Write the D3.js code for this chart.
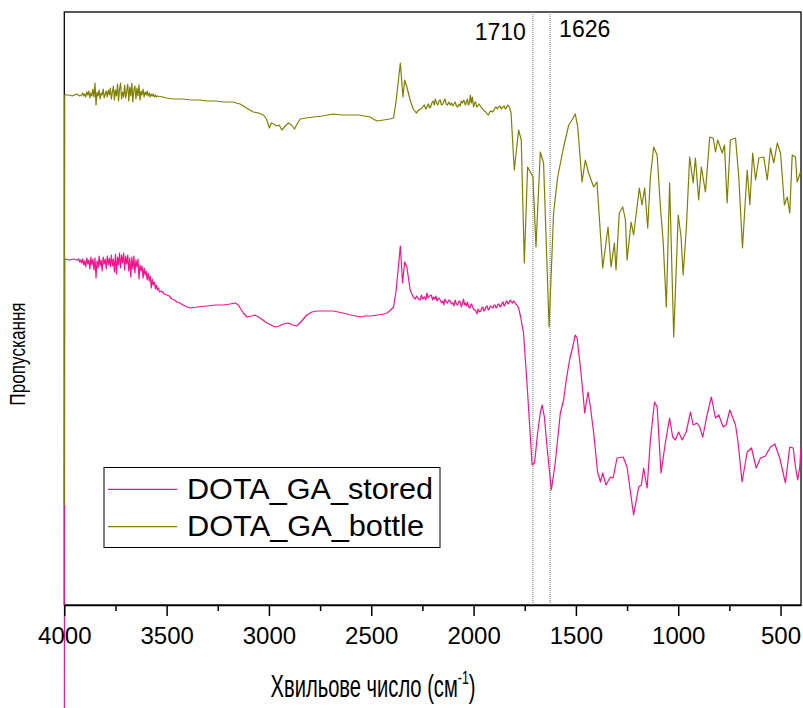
<!DOCTYPE html>
<html>
<head>
<meta charset="utf-8">
<script src="https://cdn.jsdelivr.net/npm/d3@7"></script>
<style>
  html, body { margin: 0; padding: 0; background: #fff; }
  svg { display: block; }
  text { font-family: "Liberation Sans", Arial, sans-serif; fill: #000; }
</style>
</head>
<body>
<svg id="chart" width="803" height="708"></svg>
<script>
// FTIR transmittance spectra, wavenumber (cm^-1) vs. transmittance (arbitrary units, offset)
const seriesNames = ["DOTA_GA_stored", "DOTA_GA_bottle"];
const seriesColors = ["#f5138c", "#808000"];

const stored = [
  [4000,-20],[3998,34.6],[3975,34.5],[3955,34.6],[3940,34.5],
  [3935,34.5],[3930,34.6],[3925,34.3],[3920,34.5],[3915,34.2],[3910,34.6],[3905,34.0],[3900,34.4],
  [3895,33.8],[3890,34.7],[3885,34.1],[3880,34.5],[3875,33.6],[3870,34.8],[3865,34.0],[3860,34.6],
  [3855,33.5],[3850,34.7],[3845,32.7],[3840,34.4],[3835,33.7],[3830,34.9],[3825,33.9],[3820,34.5],
  [3815,33.4],[3810,34.8],[3805,34.1],[3800,34.6],[3795,33.6],[3790,34.9],[3785,34.0],[3780,34.7],
  [3775,33.8],[3770,35.0],[3765,33.9],[3760,34.6],[3755,33.3],[3750,35.1],[3745,33.1],[3740,34.8],
  [3735,34.0],[3730,35.2],[3725,33.7],[3720,35.0],[3715,34.2],[3710,35.2],[3705,33.5],[3700,34.9],
  [3695,34.1],[3690,35.0],[3685,33.4],[3680,34.7],[3675,32.8],[3670,34.8],[3665,33.6],[3660,34.9],
  [3655,33.2],[3650,34.5],[3645,33.8],[3640,34.6],[3635,32.6],[3630,34.0],[3625,33.4],[3620,33.9],
  [3615,32.7],[3610,33.7],[3605,33.0],[3600,33.4],[3595,32.5],[3590,33.2],[3585,32.4],[3580,32.9],
  [3575,31.7],[3570,32.6],[3565,32.0],[3560,32.3],[3555,31.6],[3550,32.0],[3545,31.5],[3540,31.7],
  [3535,31.3],[3525,31.4],[3512,31.1],[3499,31.0],[3487,30.9],[3475,30.6],[3462,30.5],[3450,30.3],
  [3435,30.2],[3420,30.0],[3400,29.8],[3385,29.7],[3350,29.8],[3304,29.9],[3260,30.0],[3222,30.0],
  [3190,30.1],[3165,30.2],[3150,30.0],[3141,29.7],[3125,29.2],[3108,28.8],[3085,28.9],[3070,29.0],
  [3051,28.8],[3030,28.5],[3010,28.2],[2990,28.0],[2970,27.8],[2950,27.9],[2930,28.1],[2905,28.2],
  [2885,28.0],[2864,27.9],[2840,28.4],[2815,29.0],[2790,29.3],[2766,29.4],[2720,29.4],[2685,29.4],
  [2640,29.2],[2600,29.0],[2554,28.8],[2530,28.9],[2500,28.9],[2470,29.0],[2440,29.1],[2423,29.2],
  [2405,29.5],[2391,29.8],[2378,31.5],[2358,35.9],[2347,32.2],[2337,34.3],[2326,33.8],[2310,31.5],
  [2295,30.8],[2285,30.6],[2278,30.9],[2270,30.6],[2261,30.5],[2255,31.0],[2248,30.6],[2240,30.8],
  [2233,30.5],[2228,31.2],[2222,30.7],[2215,30.9],[2207,31.0],[2200,30.5],[2196,30.8],[2190,30.6],
  [2185,30.9],[2178,30.4],[2170,30.7],[2163,30.5],[2157,30.2],[2150,30.4],[2145,30.0],[2140,30.6],
  [2133,30.3],[2128,30.2],[2120,30.5],[2114,30.4],[2108,30.1],[2102,30.2],[2096,29.9],[2090,30.5],
  [2084,30.1],[2078,30.0],[2071,30.4],[2065,30.3],[2060,29.8],[2055,30.1],[2049,30.6],[2044,30.0],
  [2040,30.2],[2034,29.9],[2030,30.3],[2024,29.8],[2018,29.7],[2012,30.1],[2008,30.0],[2001,29.6],
  [1995,29.5],[1989,29.4],[1983,29.1],[1978,29.6],[1972,29.3],[1965,29.4],[1960,29.7],[1955,29.8],
  [1950,29.4],[1945,29.5],[1940,29.8],[1934,29.9],[1928,29.5],[1924,29.6],[1918,29.9],[1912,29.8],
  [1905,29.7],[1900,30.0],[1895,30.0],[1890,29.7],[1886,29.8],[1880,30.1],[1876,30.1],[1870,29.8],
  [1866,29.9],[1860,30.2],[1856,30.3],[1851,29.9],[1847,30.0],[1842,30.3],[1837,30.4],[1832,30.1],
  [1828,30.2],[1821,30.5],[1815,30.3],[1810,30.2],[1805,30.4],[1800,30.3],[1794,30.1],[1788,30.0],
  [1780,29.7],[1772,29.0],[1756,27.2],[1739,22.2],[1714,14.0],[1702,14.2],[1687,17.2],[1674,19.2],
  [1665,20.0],[1654,18.8],[1641,15.8],[1620,11.5],[1601,14.2],[1576,19.2],[1560,20.5],[1547,22.5],
  [1531,24.5],[1519,25.5],[1503,27.0],[1494,26.7],[1478,23.8],[1467,21.5],[1457,19.2],[1441,21.3],
  [1429,19.8],[1413,17.2],[1394,13.3],[1380,12.3],[1369,13.2],[1353,12.0],[1332,12.8],[1318,12.7],
  [1299,14.7],[1269,14.8],[1250,13.8],[1218,9.0],[1193,11.8],[1180,12.0],[1169,13.7],[1152,11.7],
  [1136,16.5],[1116,20.3],[1103,19.8],[1084,13.2],[1063,16.2],[1042,18.7],[1027,16.8],[1014,16.5],
  [998,17.3],[981,16.5],[961,17.3],[940,19.3],[927,18.0],[908,18.2],[895,17.8],[880,16.8],
  [859,19.0],[838,20.8],[818,18.7],[802,19.0],[780,17.8],[766,18.0],[748,19.5],[720,18.0],
  [707,16.2],[688,12.3],[663,15.3],[642,15.7],[619,13.7],[598,14.7],[574,14.9],[549,15.8],
  [528,16.1],[504,14.7],[476,12.2],[455,15.8],[438,15.7],[427,13.8],[416,12.5],[406,13.8],[400,15.8]
];

const bottle = [
  [4000,10.0],[3998,51.0],[3980,51.0],[3960,50.9],[3940,51.1],[3925,50.9],
  [3915,51.0],[3910,51.2],[3905,50.9],[3900,51.1],[3895,50.8],[3890,51.3],[3885,51.0],[3880,51.4],
  [3875,50.7],[3870,51.2],[3865,50.9],[3860,51.6],[3855,50.8],[3850,52.2],[3845,50.0],[3840,51.3],
  [3835,50.9],[3830,51.5],[3825,50.6],[3820,51.2],[3815,51.0],[3810,51.6],[3805,50.7],[3800,51.1],
  [3795,51.4],[3790,50.8],[3785,51.5],[3780,51.0],[3775,51.7],[3770,50.6],[3765,51.3],[3760,51.9],
  [3755,50.5],[3750,51.5],[3745,50.9],[3740,52.1],[3735,50.4],[3730,51.6],[3725,52.2],[3720,50.6],
  [3715,51.3],[3710,50.8],[3705,52.0],[3700,50.7],[3695,51.4],[3690,52.1],[3685,50.4],[3680,51.8],
  [3675,50.9],[3670,52.2],[3665,50.3],[3660,51.5],[3655,51.9],[3650,50.6],[3645,51.7],[3640,50.9],
  [3635,52.0],[3630,50.5],[3625,51.4],[3620,51.0],[3615,51.6],[3610,50.8],[3605,51.3],[3600,51.0],
  [3595,51.4],[3590,50.9],[3585,51.2],[3580,50.8],[3575,51.1],[3570,50.9],[3565,51.1],[3560,50.8],
  [3555,51.0],[3550,50.8],[3545,50.9],[3520,50.8],[3500,50.7],[3467,50.6],[3420,50.6],
  [3380,50.5],[3340,50.5],[3304,50.4],[3260,50.4],[3220,50.3],[3174,50.3],[3160,50.2],[3141,50.1],
  [3110,49.7],[3076,49.3],[3050,49.2],[3027,49.0],[3012,48.6],[2998,47.7],[2988,48.2],[2978,48.1],
  [2960,47.9],[2950,48.0],[2937,47.5],[2920,47.9],[2905,48.2],[2890,48.0],[2875,47.6],[2860,48.2],
  [2847,48.6],[2820,48.7],[2782,48.8],[2740,48.9],[2685,49.1],[2640,49.0],[2600,49.0],[2560,49.0],
  [2505,48.8],[2490,48.6],[2472,48.4],[2440,48.5],[2410,48.6],[2391,48.7],[2378,50.5],[2358,54.2],
  [2345,50.8],[2337,52.5],[2326,51.8],[2310,50.5],[2295,49.6],[2280,49.2],[2268,49.5],[2252,49.7],
  [2245,49.9],[2240,50.0],[2234,49.6],[2230,49.7],[2224,50.0],[2220,50.1],[2215,49.7],[2210,49.8],
  [2204,50.2],[2198,50.4],[2192,50.0],[2187,50.6],[2181,50.2],[2175,50.0],[2169,50.4],[2163,50.5],
  [2157,50.0],[2150,50.1],[2145,50.4],[2140,50.6],[2134,50.1],[2128,50.0],[2121,50.3],[2114,50.0],
  [2108,50.2],[2102,49.9],[2096,50.1],[2090,50.3],[2084,49.9],[2078,49.8],[2071,50.1],[2065,49.9],
  [2060,50.4],[2055,50.2],[2048,50.5],[2040,50.0],[2035,50.3],[2030,50.6],[2026,50.0],[2022,50.1],
  [2019,50.5],[2016,51.0],[2013,50.3],[2010,50.2],[2007,50.8],[2005,50.7],[2002,50.1],[2000,49.8],
  [1995,50.2],[1990,50.3],[1985,49.8],[1980,49.9],[1974,50.1],[1967,49.9],[1961,49.7],[1955,49.6],
  [1948,49.4],[1940,49.3],[1934,49.1],[1927,49.0],[1921,49.3],[1915,49.4],[1908,49.3],[1900,49.5],
  [1895,49.7],[1890,49.8],[1884,49.6],[1878,49.8],[1871,49.9],[1865,49.6],[1857,49.8],[1850,49.9],
  [1845,49.6],[1840,49.7],[1834,50.0],[1829,49.9],[1823,49.7],[1817,49.2],[1801,43.5],
  [1780,47.5],[1767,46.5],[1752,34.2],[1736,43.8],[1723,43.3],[1710,42.8],[1695,35.8],[1674,45.3],
  [1658,44.2],[1631,27.8],[1609,39.2],[1589,42.8],[1560,45.8],[1535,48.0],[1519,48.5],[1503,49.1],
  [1491,47.8],[1470,42.3],[1454,44.5],[1438,43.2],[1413,41.8],[1397,42.3],[1369,33.7],[1343,37.8],
  [1328,33.8],[1312,36.2],[1304,33.5],[1288,39.2],[1271,39.8],[1258,38.5],[1250,34.5],[1230,38.3],
  [1218,37.0],[1190,41.7],[1177,40.0],[1164,41.7],[1149,37.7],[1136,42.8],[1120,45.8],[1103,45.0],
  [1087,39.8],[1074,36.5],[1058,29.8],[1042,42.2],[1022,26.8],[1000,39.0],[986,36.8],[976,33.0],
  [960,37.8],[944,44.8],[927,42.2],[916,44.7],[900,40.5],[887,43.8],[867,41.3],[846,46.8],
  [829,46.7],[818,45.3],[807,46.5],[785,45.2],[774,46.0],[761,40.2],[745,46.5],[720,46.7],
  [704,42.8],[686,35.7],[663,43.5],[650,40.0],[636,45.2],[622,42.5],[606,44.7],[582,44.8],
  [565,42.5],[549,45.7],[533,44.2],[516,46.2],[500,45.2],[481,40.0],[467,40.8],[455,39.2],
  [443,45.0],[427,44.8],[419,42.3],[402,43.3]
];

const xMajorTicks = [4000, 3500, 3000, 2500, 2000, 1500, 1000, 500];
const xMinorTicks = [3750, 3250, 2750, 2250, 1750, 1250, 750];
const markerLines = [1710, 1626];

const svg = d3.select("#chart");
const frame = { left: 64.3, right: 801, top: 12, bottom: 605 };

const x = d3.scaleLinear().domain([4000, 400]).range([frame.left, frame.right]);
const y = d3.scaleLinear().domain([0, 59.3]).range([frame.bottom, frame.top]);

// plot frame
svg.append("rect")
  .attr("x", frame.left).attr("y", frame.top)
  .attr("width", frame.right - frame.left).attr("height", frame.bottom - frame.top)
  .attr("fill", "none").attr("stroke", "#000").attr("stroke-width", 1.3);

// band markers
svg.append("g").selectAll("line").data(markerLines).join("line")
  .attr("x1", d => x(d)).attr("x2", d => x(d))
  .attr("y1", frame.top).attr("y2", frame.bottom)
  .attr("stroke", "#777").attr("stroke-width", 1)
  .attr("stroke-dasharray", "1,1");

svg.append("text").attr("x", x(1710) - 7).attr("y", 40)
  .attr("text-anchor", "end").attr("font-size", 23).text(String(markerLines[0]));
svg.append("text").attr("x", x(1626) + 9).attr("y", 37)
  .attr("text-anchor", "start").attr("font-size", 23).text(String(markerLines[1]));

// spectra
const line = d3.line().x(d => x(d[0])).y(d => y(d[1]));
[stored, bottle].forEach((s, i) => {
  svg.append("path").datum(s)
    .attr("fill", "none")
    .attr("stroke", seriesColors[i])
    .attr("stroke-width", 1.2)
    .attr("stroke-linejoin", "round")
    .attr("d", line);
});

// bottom axis: major and minor ticks
const xAxis = d3.axisBottom(x).tickValues(xMajorTicks).tickFormat(d3.format("d"))
  .tickSize(11).tickSizeOuter(0).tickPadding(11);
const gx = svg.append("g").attr("transform", `translate(0,${frame.bottom})`).call(xAxis);
gx.select(".domain").attr("stroke", "#000").attr("stroke-width", 1.5);
gx.selectAll(".tick line").attr("stroke", "#000").attr("stroke-width", 1.5);
gx.selectAll(".tick text").attr("font-size", 24).attr("font-family", "Liberation Sans, Arial, sans-serif").attr("fill", "#000");

const xMinor = d3.axisBottom(x).tickValues(xMinorTicks).tickSize(6).tickFormat("");
const gm = svg.append("g").attr("transform", `translate(0,${frame.bottom})`).call(xMinor);
gm.select(".domain").remove();
gm.selectAll(".tick line").attr("stroke", "#000").attr("stroke-width", 1.5);

// axis titles (condensed lettering)
const xt = svg.append("g").attr("transform", "translate(373,697) scale(0.65,1)")
  .append("text").attr("text-anchor", "middle").attr("font-size", 31);
xt.append("tspan").text("Хвильове число (см");
xt.append("tspan").attr("font-size", 19).attr("dy", -13).text("-1");
xt.append("tspan").attr("dy", 13).text(")");

svg.append("g").attr("transform", "translate(25,354) rotate(-90) scale(0.78,1)")
  .append("text").attr("text-anchor", "middle").attr("font-size", 22).text("Пропускання");

// legend
const lg = svg.append("g");
lg.append("rect").attr("x", 104).attr("y", 467.5).attr("width", 336).attr("height", 80)
  .attr("fill", "#fff").attr("stroke", "#000").attr("stroke-width", 1);
const legendRows = [489.3, 526.7];
const legendWidths = [246, 237];
seriesNames.forEach((name, i) => {
  lg.append("line").attr("x1", 108).attr("x2", 177)
    .attr("y1", legendRows[i]).attr("y2", legendRows[i])
    .attr("stroke", seriesColors[i]).attr("stroke-width", 1.2);
  lg.append("text").attr("x", 187).attr("y", legendRows[i] + 9.5)
    .attr("font-size", 29)
    .attr("textLength", legendWidths[i]).attr("lengthAdjust", "spacingAndGlyphs")
    .text(name);
});
</script>
</body>
</html>
